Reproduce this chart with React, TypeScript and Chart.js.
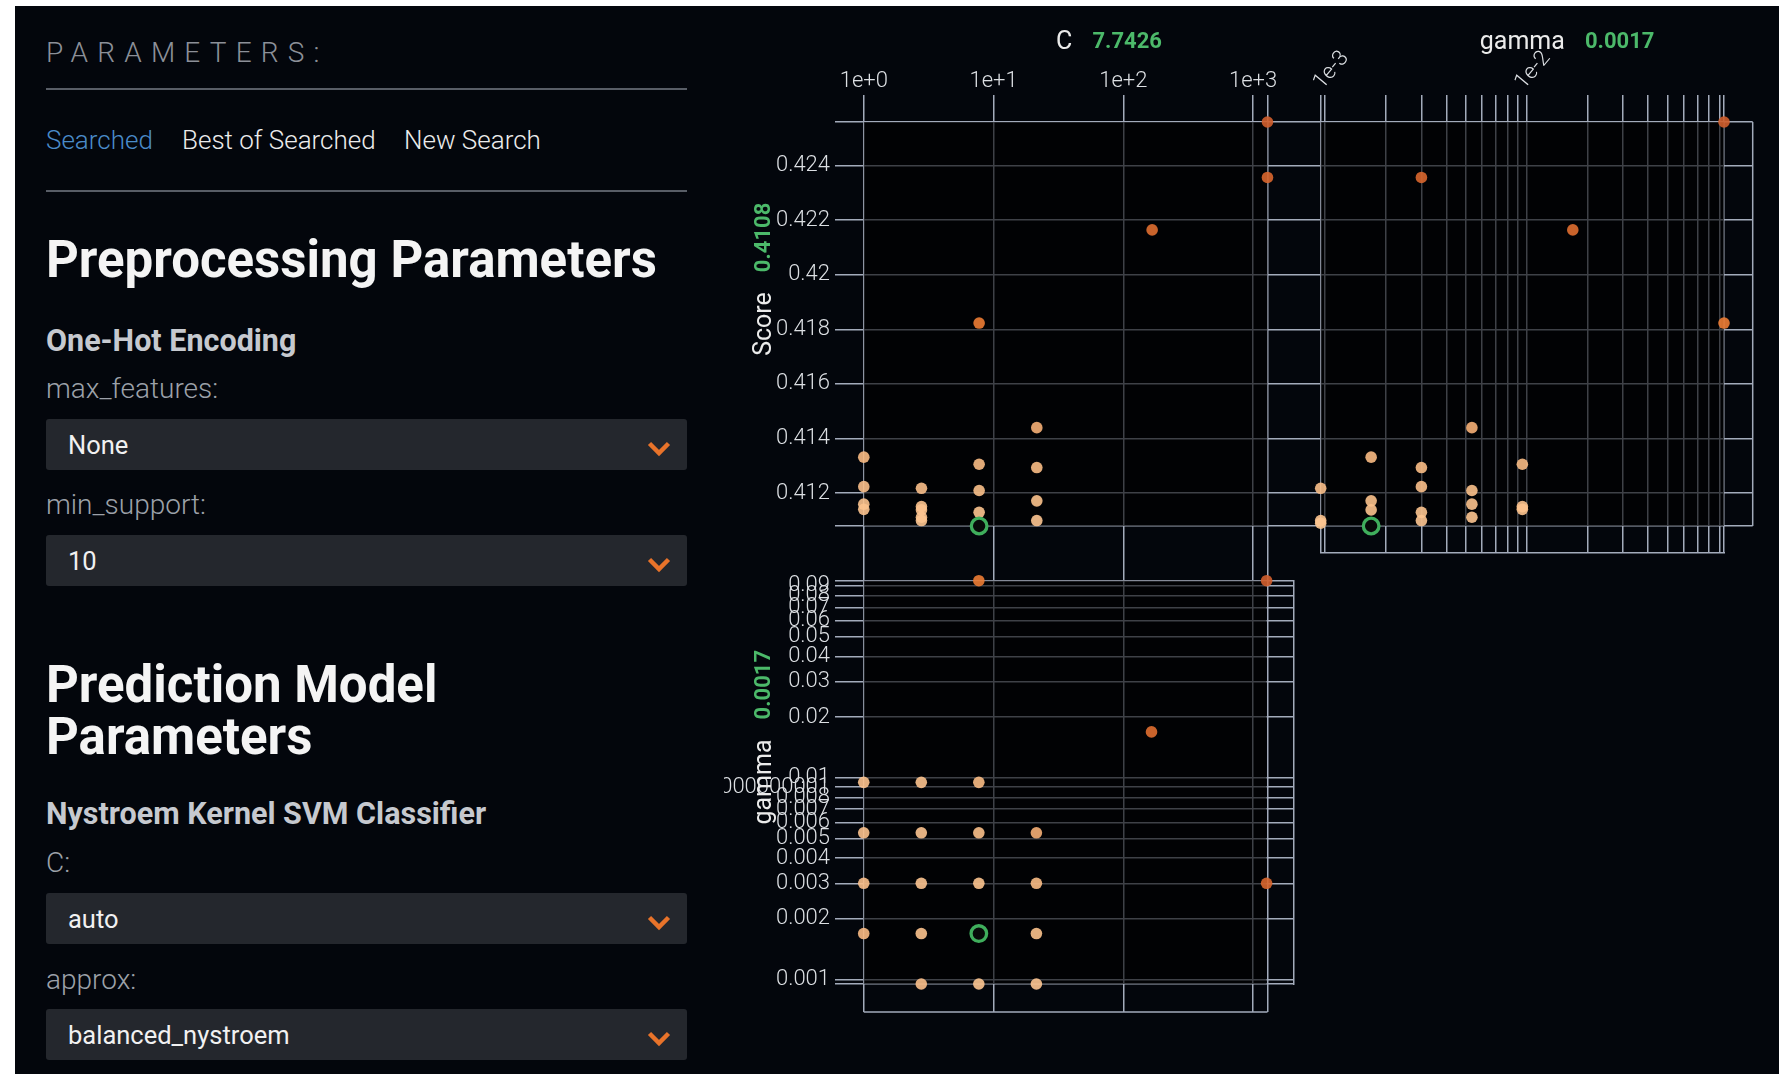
import React, { useEffect, useRef } from 'react';
import { Chart, registerables } from 'chart.js';

Chart.register(...registerables);

// ---------------- data (one entry per searched trial) ----------------
const trialC = [1, 1, 1, 1, 2.7826, 2.7826, 2.7826, 2.7826, 2.7826, 7.7426, 7.7426, 7.7426, 7.7426, 7.7426, 7.7426, 21.544, 21.544, 21.544, 21.544, 166.81, 1291.5, 1291.5];
const trialGamma = [0.00169, 0.003, 0.00534, 0.0095, 0.00095, 0.00169, 0.003, 0.00534, 0.0095, 0.00095, 0.00169, 0.003, 0.00534, 0.0095, 0.095, 0.00095, 0.00169, 0.003, 0.00534, 0.0169, 0.003, 0.095];
const trialScore = [0.41332, 0.41224, 0.4116, 0.41141, 0.41218, 0.41139, 0.411, 0.41112, 0.41151, 0.4109, 0.4108, 0.4113, 0.4121, 0.41306, 0.41823, 0.411, 0.41172, 0.41294, 0.4144, 0.42164, 0.42356, 0.42559];

// ---------------- tick values / labels ----------------
const cTickValues = [1, 10, 100, 1000];
const cTickLabels = ['1e+0', '1e+1', '1e+2', '1e+3'];
const scoreTickValues = [0.412, 0.414, 0.416, 0.418, 0.42, 0.422, 0.424];
const scoreTickLabels = ['0.412', '0.414', '0.416', '0.418', '0.42', '0.422', '0.424'];
const gammaTickValues = [0.001, 0.002, 0.003, 0.004, 0.005, 0.006, 0.007, 0.008, 0.009, 0.01, 0.02, 0.03, 0.04, 0.05, 0.06, 0.07, 0.08, 0.09];
const gammaTopTickLabels = ['1e-3', '', '', '', '', '', '', '', '', '1e-2', '', '', '', '', '', '', '', ''];
const gammaSideTickLabels = ['0.001', '0.002', '0.003', '0.004', '0.005', '0.006', '0.007', '0.008', '0.009000000000000001', '0.01', '0.02', '0.03', '0.04', '0.05', '0.06', '0.07', '0.08', '0.09'];

// ---------------- left panel texts ----------------
const tabLabels = ['Searched', 'Best of Searched', 'New Search'];
const preprocessingFields = [
  { label: 'max_features:', value: 'None' },
  { label: 'min_support:', value: '10' },
];
const modelFields = [
  { label: 'C:', value: 'auto' },
  { label: 'approx:', value: 'balanced_nystroem' },
];

// ---------------- styles ----------------
const FONT = 'Roboto, "Noto Sans", sans-serif';
const PAGE_BG = '#03060c';
const GRID_COLOR = '#a3abbb';
const SHADE_COLOR = 'rgba(0,0,0,0.62)';
const TICK_COLOR = '#dcdfe3';
const GREEN = '#4cb96a';
const RING = '#3fae5c';
const TICK_FONT = { family: 'Roboto', size: 22, weight: '300' as any };
const COLOR_STOPS: [number, number[]][] = [
  [0, [253, 198, 146]],
  [0.2, [247, 184, 128]],
  [0.5, [236, 124, 52]],
  [1, [208, 94, 44]],
];

// ---------------- layout (page pixels) ----------------
const X_C = [862, 1266.5];   // pixel of min C, max C
const X_G = [1320.7, 1724];  // pixel of min gamma, max gamma
const Y_S = [526, 122];      // pixel of min score, max score
const Y_G = [984, 580.7];    // pixel of min gamma, max gamma
const AREA_A = { l: 835, r: 1752.7, t: 95, b: 1012 };
const AREA_B = { l: X_G[0], r: X_G[1], t: 95, b: 553 };
const AREA_C = { l: 835, r: 1294, t: Y_G[1], b: Y_G[0] };
const CANVAS_A = { left: 724, top: 6, w: 1055, h: 1068 };
const CANVAS_B = { left: 1290, top: 6, w: 489, h: 600 };
const CANVAS_C = { left: 724, top: 500, w: 600, h: 574 };

const cDom = [Math.min(...trialC), Math.max(...trialC)];
const gDom = [Math.min(...trialGamma), Math.max(...trialGamma)];
const sDom = [Math.min(...trialScore), Math.max(...trialScore)];
const bestIdx = trialScore.indexOf(sDom[0]);

function extendRange(d0: number, d1: number, p0: number, p1: number, e0: number, e1: number, log: boolean) {
  const f = log ? Math.log10 : (v: number) => v;
  const g = log ? (v: number) => Math.pow(10, v) : (v: number) => v;
  const k = (p1 - p0) / (f(d1) - f(d0));
  return { min: g(f(d0) - (p0 - e0) / k), max: g(f(d1) + (e1 - p1) / k) };
}

function scoreColor(s: number) {
  const t = (s - sDom[0]) / (sDom[1] - sDom[0]);
  let i = 0;
  while (i < COLOR_STOPS.length - 2 && t > COLOR_STOPS[i + 1][0]) i++;
  const [t0, c0] = COLOR_STOPS[i];
  const [t1, c1] = COLOR_STOPS[i + 1];
  const u = Math.max(0, Math.min(1, (t - t0) / (t1 - t0)));
  const c = c0.map((v, k) => Math.round(v + (c1[k] - v) * u));
  return `rgba(${c[0]},${c[1]},${c[2]},0.9)`;
}
const pointColors = trialScore.map(scoreColor);

function tickSetter(values: number[], dom: number[]) {
  return (scale: any) => {
    const all = Array.from(new Set([dom[0], ...values, dom[1]])).sort((a, b) => a - b);
    scale.ticks = all.map((v) => ({ value: v }));
  };
}
function labeller(values: number[], labels: string[]) {
  return (v: any) => {
    const i = values.findIndex((t) => Math.abs(t - Number(v)) <= Math.abs(t) * 1e-9);
    return i >= 0 ? labels[i] : '';
  };
}

function pointsDataset(xs: number[], ys: number[]) {
  return {
    data: xs.map((x, i) => ({ x, y: ys[i] })),
    pointRadius: 5.8,
    pointBackgroundColor: pointColors,
    pointBorderWidth: 0,
    clip: false as any,
  };
}
function bestDataset(x: number, y: number) {
  return {
    data: [{ x, y }],
    pointRadius: 7.8,
    pointBackgroundColor: '#070b09',
    pointBorderColor: RING,
    pointBorderWidth: 3.3,
    clip: false as any,
  };
}

function shadePlugin(xDom: number[], yDom: number[]) {
  return {
    id: 'panelShade',
    beforeDatasetsDraw(chart: any) {
      const { ctx, scales } = chart;
      const x0 = scales.x.getPixelForValue(xDom[0]);
      const x1 = scales.x.getPixelForValue(xDom[1]);
      const y0 = scales.y.getPixelForValue(yDom[1]);
      const y1 = scales.y.getPixelForValue(yDom[0]);
      ctx.save();
      ctx.fillStyle = SHADE_COLOR;
      ctx.fillRect(x0, y0, x1 - x0, y1 - y0);
      ctx.restore();
    },
  };
}

const frameAPlugin = {
  id: 'frameA',
  beforeDatasetsDraw(chart: any) {
    const { ctx, scales, chartArea } = chart;
    ctx.save();
    ctx.strokeStyle = GRID_COLOR;
    ctx.lineWidth = 1.5;
    ctx.beginPath();
    ctx.moveTo(scales.x.getPixelForValue(cDom[0]), chartArea.bottom);
    ctx.lineTo(scales.x.getPixelForValue(cDom[1]), chartArea.bottom);
    ctx.moveTo(chartArea.right, scales.y.getPixelForValue(sDom[1]));
    ctx.lineTo(chartArea.right, scales.y.getPixelForValue(sDom[0]));
    ctx.stroke();
    ctx.restore();
  },
};

const gridOpts = { color: GRID_COLOR, lineWidth: 1.5, drawTicks: false };
const baseOptions = {
  responsive: false,
  animation: false as const,
  events: [] as any[],
  devicePixelRatio: 1,
  plugins: { legend: { display: false }, tooltip: { enabled: false }, colors: { enabled: false } },
};

function makeChartA(canvas: HTMLCanvasElement) {
  const xr = extendRange(cDom[0], cDom[1], X_C[0], X_C[1], AREA_A.l, AREA_A.r, true);
  const yr = extendRange(sDom[0], sDom[1], Y_S[0], Y_S[1], AREA_A.b, AREA_A.t, false);
  return new Chart(canvas, {
    type: 'scatter',
    data: {
      datasets: [
        bestDataset(trialC[bestIdx], trialScore[bestIdx]),
        pointsDataset(trialC, trialScore),
      ] as any,
    },
    options: {
      ...baseOptions,
      layout: {
        padding: {
          left: 0,
          top: 0,
          right: CANVAS_A.left + CANVAS_A.w - AREA_A.r,
          bottom: CANVAS_A.top + CANVAS_A.h - AREA_A.b,
        },
      },
      scales: {
        x: {
          type: 'logarithmic',
          position: 'top',
          min: xr.min,
          max: xr.max,
          grid: gridOpts,
          border: { display: false },
          ticks: { autoSkip: false, maxRotation: 0, minRotation: 0, padding: 0, color: TICK_COLOR, font: TICK_FONT, callback: labeller(cTickValues, cTickLabels) },
          afterBuildTicks: tickSetter(cTickValues, cDom),
          afterFit: (s: any) => { s.height = AREA_A.t - CANVAS_A.top; },
        },
        y: {
          type: 'linear',
          position: 'left',
          min: yr.min,
          max: yr.max,
          grid: gridOpts,
          border: { display: false },
          ticks: { autoSkip: false, padding: 5, color: TICK_COLOR, font: TICK_FONT, callback: labeller(scoreTickValues, scoreTickLabels) },
          afterBuildTicks: tickSetter(scoreTickValues, sDom),
          afterFit: (s: any) => { s.width = AREA_A.l - CANVAS_A.left; },
        },
      },
    } as any,
    plugins: [shadePlugin(cDom, sDom), frameAPlugin],
  });
}

function makeChartB(canvas: HTMLCanvasElement) {
  const yr = extendRange(sDom[0], sDom[1], Y_S[0], Y_S[1], AREA_B.b, AREA_B.t, false);
  return new Chart(canvas, {
    type: 'scatter',
    data: {
      datasets: [
        { ...bestDataset(trialGamma[bestIdx], trialScore[bestIdx]), xAxisID: 'x', yAxisID: 'y' },
        { ...pointsDataset(trialGamma, trialScore), xAxisID: 'x', yAxisID: 'y' },
      ] as any,
    },
    options: {
      ...baseOptions,
      layout: {
        padding: {
          left: AREA_B.l - CANVAS_B.left,
          top: 0,
          right: CANVAS_B.left + CANVAS_B.w - AREA_B.r,
          bottom: CANVAS_B.top + CANVAS_B.h - AREA_B.b,
        },
      },
      scales: {
        x: {
          type: 'logarithmic',
          position: 'top',
          min: gDom[0],
          max: gDom[1],
          grid: gridOpts,
          border: { display: false },
          ticks: { autoSkip: false, minRotation: 50, maxRotation: 50, padding: 0, labelOffset: 13, color: TICK_COLOR, font: TICK_FONT, callback: labeller(gammaTickValues, gammaTopTickLabels) },
          afterBuildTicks: tickSetter(gammaTickValues, gDom),
          afterFit: (s: any) => { s.height = AREA_B.t - CANVAS_B.top; },
        },
        xb: {
          type: 'linear',
          position: 'bottom',
          min: 0,
          max: 1,
          grid: { display: false, drawTicks: false },
          ticks: { display: false },
          border: { display: true, color: GRID_COLOR, width: 1.5 },
          afterFit: (s: any) => { s.height = 0; },
        },
        y: {
          type: 'linear',
          display: false,
          min: yr.min,
          max: yr.max,
        },
      },
    } as any,
    plugins: [shadePlugin(gDom, sDom)],
  });
}

function makeChartC(canvas: HTMLCanvasElement) {
  const xr = extendRange(cDom[0], cDom[1], X_C[0], X_C[1], AREA_C.l, AREA_C.r, true);
  return new Chart(canvas, {
    type: 'scatter',
    data: {
      datasets: [
        { ...bestDataset(trialC[bestIdx], trialGamma[bestIdx]), xAxisID: 'x', yAxisID: 'y' },
        { ...pointsDataset(trialC, trialGamma), xAxisID: 'x', yAxisID: 'y' },
      ] as any,
    },
    options: {
      ...baseOptions,
      layout: {
        padding: {
          left: 0,
          top: AREA_C.t - CANVAS_C.top,
          right: CANVAS_C.left + CANVAS_C.w - AREA_C.r,
          bottom: CANVAS_C.top + CANVAS_C.h - AREA_C.b,
        },
      },
      scales: {
        x: {
          type: 'logarithmic',
          display: false,
          min: xr.min,
          max: xr.max,
        },
        y: {
          type: 'logarithmic',
          position: 'left',
          min: gDom[0],
          max: gDom[1],
          grid: gridOpts,
          border: { display: false },
          ticks: { autoSkip: false, padding: 5, color: TICK_COLOR, font: TICK_FONT, callback: labeller(gammaTickValues, gammaSideTickLabels) },
          afterBuildTicks: tickSetter(gammaTickValues, gDom),
          afterFit: (s: any) => { s.width = AREA_C.l - CANVAS_C.left; },
        },
        yr: {
          type: 'linear',
          position: 'right',
          min: 0,
          max: 1,
          grid: { display: false, drawTicks: false },
          ticks: { display: false },
          border: { display: true, color: GRID_COLOR, width: 1.5 },
          afterFit: (s: any) => { s.width = 0; },
        },
      },
    } as any,
    plugins: [shadePlugin(cDom, gDom)],
  });
}

// ---------------- html helpers ----------------
function Txt(props: { x: number; base: number; size: number; weight?: number; color: string; ls?: number; children: any }) {
  const { x, base, size, weight = 400, color, ls, children } = props;
  return (
    <div
      style={{
        position: 'absolute',
        left: x,
        top: base - 0.842 * size,
        fontFamily: FONT,
        fontSize: size,
        lineHeight: `${size}px`,
        fontWeight: weight,
        color,
        letterSpacing: ls,
        whiteSpace: 'nowrap',
      }}
    >
      {children}
    </div>
  );
}

function Select(props: { top: number; value: string }) {
  const { top, value } = props;
  return (
    <>
      <div style={{ position: 'absolute', left: 46, top, width: 641, height: 51, background: '#24272d', borderRadius: 3 }} />
      <Txt x={68} base={top + 35} size={25.5} color="#f1f1f1">{value}</Txt>
      <svg style={{ position: 'absolute', left: 647, top: top + 21 }} width={24} height={17} viewBox="0 0 24 17">
        <polyline points="2.5,3.5 12,13 21.5,3.5" fill="none" stroke="#e8732a" strokeWidth={4.5} />
      </svg>
    </>
  );
}

function AxisTitle(props: { cx: number; cy: number; name: string; value: string; rotate?: boolean }) {
  const { cx, cy, name, value, rotate } = props;
  return (
    <div
      style={{
        position: 'absolute',
        left: cx,
        top: cy,
        transform: `translate(-50%, -50%)${rotate ? ' rotate(-90deg)' : ''}`,
        fontFamily: FONT,
        fontSize: 25,
        lineHeight: '25px',
        color: '#ebebeb',
        whiteSpace: 'nowrap',
      }}
    >
      {name}
      <span style={{ position: 'absolute', left: 'calc(100% + 20px)', top: 0, fontSize: 22, fontWeight: 700, color: GREEN }}>{value}</span>
    </div>
  );
}

export default function App() {
  const refA = useRef<HTMLCanvasElement>(null);
  const refB = useRef<HTMLCanvasElement>(null);
  const refC = useRef<HTMLCanvasElement>(null);

  useEffect(() => {
    document.body.style.overflow = 'hidden';
    const charts: Chart[] = [];
    if (refA.current) charts.push(makeChartA(refA.current));
    if (refB.current) charts.push(makeChartB(refB.current));
    if (refC.current) charts.push(makeChartC(refC.current));
    return () => charts.forEach((c) => c.destroy());
  }, []);

  const canvasStyle = (c: { left: number; top: number; w: number; h: number }) => ({
    position: 'absolute' as const,
    left: c.left,
    top: c.top,
    width: c.w,
    height: c.h,
  });

  const tabX = [46, 182, 404];
  const HEAD = 51;
  const SUB = 30.5;
  const LABEL = 28;

  return (
    <div>
      <div style={{ position: 'absolute', left: 15, top: 6, width: 1779 - 15, height: 1074 - 6, background: PAGE_BG }} />

      {/* left parameter panel */}
      <Txt x={46} base={63} size={28} weight={300} color="#8c9098" ls={9.2}>PARAMETERS:</Txt>
      <div style={{ position: 'absolute', left: 46, top: 88, width: 641, height: 2, background: '#585d66' }} />
      {tabLabels.map((t, i) => (
        <Txt key={t} x={tabX[i]} base={149} size={26} weight={300} color={i === 0 ? '#4a8bc9' : '#ececec'}>{t}</Txt>
      ))}
      <div style={{ position: 'absolute', left: 46, top: 190, width: 641, height: 2, background: '#585d66' }} />

      <Txt x={46} base={277} size={HEAD} weight={700} color="#f4f4f4">Preprocessing Parameters</Txt>
      <Txt x={46} base={352} size={SUB} weight={700} color="#c6c9cf">One-Hot Encoding</Txt>
      <Txt x={46} base={399} size={LABEL} weight={300} color="#9ca1a9">{preprocessingFields[0].label}</Txt>
      <Select top={419} value={preprocessingFields[0].value} />
      <Txt x={46} base={515} size={LABEL} weight={300} color="#9ca1a9">{preprocessingFields[1].label}</Txt>
      <Select top={535} value={preprocessingFields[1].value} />

      <Txt x={46} base={702} size={HEAD} weight={700} color="#f4f4f4">Prediction Model</Txt>
      <Txt x={46} base={754} size={HEAD} weight={700} color="#f4f4f4">Parameters</Txt>
      <Txt x={46} base={825} size={SUB} weight={700} color="#c6c9cf">Nystroem Kernel SVM Classifier</Txt>
      <Txt x={46} base={873} size={LABEL} weight={300} color="#9ca1a9">{modelFields[0].label}</Txt>
      <Select top={893} value={modelFields[0].value} />
      <Txt x={46} base={990} size={LABEL} weight={300} color="#9ca1a9">{modelFields[1].label}</Txt>
      <Select top={1009} value={modelFields[1].value} />

      {/* scatter plot matrix */}
      <canvas ref={refA} width={CANVAS_A.w} height={CANVAS_A.h} style={canvasStyle(CANVAS_A)} />
      <canvas ref={refB} width={CANVAS_B.w} height={CANVAS_B.h} style={canvasStyle(CANVAS_B)} />
      <canvas ref={refC} width={CANVAS_C.w} height={CANVAS_C.h} style={canvasStyle(CANVAS_C)} />

      <AxisTitle cx={(X_C[0] + X_C[1]) / 2} cy={40} name="C" value={trialC[bestIdx].toFixed(4)} />
      <AxisTitle cx={(X_G[0] + X_G[1]) / 2} cy={40} name="gamma" value={trialGamma[bestIdx].toFixed(4)} />
      <AxisTitle cx={762} cy={(Y_S[0] + Y_S[1]) / 2} name="Score" value={trialScore[bestIdx].toFixed(4)} rotate />
      <AxisTitle cx={762} cy={(Y_G[0] + Y_G[1]) / 2} name="gamma" value={trialGamma[bestIdx].toFixed(4)} rotate />
    </div>
  );
}
